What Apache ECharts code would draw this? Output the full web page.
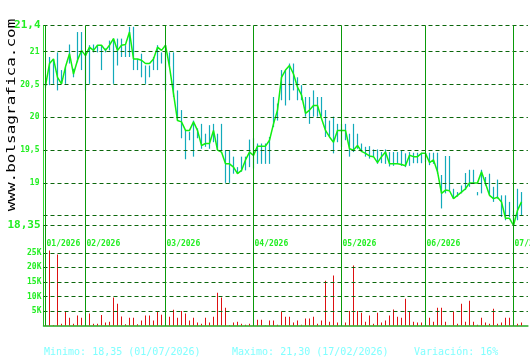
<!DOCTYPE html>
<html>
<head>
<meta charset="utf-8">
<script src="https://cdn.jsdelivr.net/npm/echarts@6/dist/echarts.min.js"></script>
<style>
html, body { margin: 0; padding: 0; background: #fff; }
#chart { width: 530px; height: 360px; }
</style>
</head>
<body>
<div id="chart"></div>
<script>
// month boundaries (trading-day index where each month starts)
var monthLabels = ['01/2026', '02/2026', '03/2026', '04/2026', '05/2026', '06/2026', '07/2026'];
var monthStarts = [0, 10, 30, 52, 74, 95, 117];

var priceTicks = [21.4, 21, 20.5, 20, 19.5, 19, 18.5, 18.35];
var priceTickLabels = ['21,4', '21', '20,5', '20', '19,5', '19', '', '18,35'];
var volumeTicks = [5000, 10000, 15000, 20000, 25000];
var volumeTickLabels = ['5K', '10K', '15K', '20K', '25K'];

var closes = [
  20.48, 20.82, 20.89, 20.61, 20.51, 20.77, 20.97, 20.66, 20.87, 21.02,
  20.94, 21.07, 21.02, 21.10, 21.10, 21.02, 21.10, 21.20, 21.02, 21.10,
  21.11, 21.30, 20.89, 20.89, 20.87, 20.82, 20.82, 20.89, 21.07, 21.02,
  21.10, 20.77, 20.36, 19.95, 19.93, 19.80, 19.80, 19.93, 19.80, 19.57,
  19.60, 19.60, 19.80, 19.50, 19.47, 19.29, 19.29, 19.24, 19.14, 19.19,
  19.35, 19.47, 19.42, 19.56, 19.56, 19.56, 19.65, 19.90, 20.11, 20.61,
  20.72, 20.79, 20.66, 20.46, 20.34, 20.06, 20.11, 20.18, 20.18, 19.98,
  19.80, 19.70, 19.62, 19.80, 19.80, 19.80, 19.52, 19.50, 19.57, 19.48,
  19.45, 19.41, 19.40, 19.31, 19.40, 19.47, 19.29, 19.29, 19.29, 19.28,
  19.26, 19.42, 19.40, 19.40, 19.45, 19.45, 19.31, 19.35, 19.17, 18.84,
  18.89, 18.88, 18.76, 18.81, 18.86, 18.91, 19.00, 19.00, 19.00, 19.17,
  18.99, 18.81, 18.76, 18.78, 18.71, 18.46, 18.46, 18.35, 18.58, 18.71
];
var highs = [
  20.55, 20.92, 20.89, 20.99, 20.72, 20.77, 21.11, 20.74, 21.30, 21.30,
  20.97, 21.10, 21.11, 21.10, 21.10, 21.05, 21.17, 21.20, 21.20, 21.20,
  21.10, 21.38, 21.38, 20.89, 20.97, 20.79, 20.79, 20.92, 21.10, 20.99,
  21.10, 20.99, 20.99, 20.41, 20.11, 19.80, 19.78, 19.95, 19.83, 19.90,
  19.75, 19.88, 19.90, 19.75, 19.90, 19.50, 19.50, 19.40, 19.24, 19.40,
  19.40, 19.66, 19.68, 19.60, 19.60, 19.60, 19.70, 20.31, 20.21, 20.72,
  20.72, 20.82, 20.82, 20.61, 20.49, 20.31, 20.31, 20.41, 20.31, 20.31,
  20.11, 19.95, 20.01, 19.90, 19.90, 19.90, 19.75, 19.90, 19.75, 19.60,
  19.55, 19.56, 19.51, 19.51, 19.47, 19.51, 19.47, 19.47, 19.47, 19.50,
  19.45, 19.47, 19.46, 19.46, 19.46, 19.46, 19.46, 19.46, 19.46, 19.12,
  19.41, 19.41, 18.91, 18.86, 18.96, 19.15, 19.20, 19.20, 18.86, 19.20,
  19.09, 19.14, 18.94, 19.05, 18.81, 18.81, 18.71, 18.58, 18.91, 18.86
];
var lows = [
  20.45, 20.49, 20.51, 20.41, 20.51, 20.51, 20.82, 20.61, 20.84, 20.72,
  20.41, 20.51, 20.99, 20.99, 20.72, 20.99, 21.02, 20.51, 20.79, 20.92,
  20.92, 20.92, 20.72, 20.72, 20.61, 20.51, 20.61, 20.72, 20.72, 20.82,
  20.41, 20.77, 20.31, 19.95, 19.68, 19.36, 19.65, 19.40, 19.68, 19.52,
  19.55, 19.52, 19.62, 19.50, 19.50, 19.00, 19.00, 19.14, 19.14, 19.17,
  19.19, 19.24, 19.22, 19.29, 19.29, 19.29, 19.29, 19.85, 19.95, 20.26,
  20.18, 20.26, 20.41, 20.26, 20.26, 20.01, 19.90, 20.01, 20.01, 20.01,
  19.70, 19.70, 19.45, 19.62, 19.55, 19.65, 19.40, 19.47, 19.52, 19.47,
  19.40, 19.37, 19.40, 19.29, 19.30, 19.29, 19.25, 19.26, 19.29, 19.26,
  19.24, 19.26, 19.30, 19.30, 19.30, 19.32, 19.27, 19.29, 19.14, 18.61,
  18.84, 18.89, 18.76, 18.79, 18.84, 18.89, 18.94, 19.00, 18.81, 18.84,
  18.96, 18.81, 18.71, 18.76, 18.48, 18.43, 18.48, 18.35, 18.43, 18.51
];
var volumes = [
  1700, 25800, 200, 24400, 600, 5000, 2700, 600, 3400, 2700,
  7700, 4100, 600, 600, 3600, 1000, 1300, 9600, 7500, 3100,
  400, 2700, 2700, 400, 1700, 3400, 3400, 1700, 5000, 3700,
  7500, 3000, 5400, 2700, 5000, 4100, 1700, 2700, 1000, 600,
  2700, 1000, 3000, 11300, 9600, 6100, 200, 1000, 1300, 600,
  300, 600, 5400, 2000, 2000, 100, 1700, 1700, 300, 4800,
  3000, 3000, 1000, 1700, 300, 2400, 2400, 3000, 600, 1700,
  15400, 1300, 17200, 1000, 1000, 1000, 5000, 20600, 5000, 4400,
  1300, 3400, 600, 4400, 1000, 1700, 3400, 5500, 3000, 2700,
  9200, 4800, 1300, 1000, 1000, 4100, 2700, 1300, 6100, 6100,
  1300, 100, 4800, 600, 7500, 1300, 8500, 1300, 300, 2700,
  1000, 600, 5800, 600, 1000, 2700, 2700, 2700, 600, 1000
];
var summaryTexts = ['Minimo: 18,35 (01/07/2026)', 'Maximo: 21,30 (17/02/2026)', 'Variación: 16%'];

var mono = 'DejaVu Sans Mono';
var green = '#22ee22';
var gridDash = { color: '#0b660b', type: [4, 3], width: 1 };
var monthLine = { color: '#0a990a', type: 'solid', width: 1 };

var priceMarks = priceTicks.map(function(v, i) {
    var big = (i === 0 || i === priceTicks.length - 1);
    return {
        yAxis: v,
        lineStyle: gridDash,
        label: {
            show: true, position: 'start', distance: big ? 3 : 4,
            formatter: priceTickLabels[i], color: green, fontFamily: mono,
            fontSize: big ? 11 : 8, fontWeight: 'bold'
        }
    };
});
monthStarts.forEach(function(d, i) {
    priceMarks.push({
        xAxis: d,
        lineStyle: monthLine,
        label: {
            show: true, position: 'start', distance: 14, align: 'left', verticalAlign: 'top',
            padding: [0, 0, 0, 1], formatter: monthLabels[i], color: green,
            fontFamily: mono, fontSize: 8, fontWeight: 'bold'
        }
    });
});

var volumeMarks = volumeTicks.map(function(v, i) {
    return {
        yAxis: v,
        lineStyle: gridDash,
        label: {
            show: true, position: 'start', distance: 2, formatter: volumeTickLabels[i],
            color: green, fontFamily: mono, fontSize: 8, fontWeight: 'bold'
        }
    };
});
monthStarts.forEach(function(d) {
    volumeMarks.push({ xAxis: d, lineStyle: monthLine, label: { show: false } });
});

var chart = echarts.init(document.getElementById('chart'));
chart.setOption({
    animation: false,
    grid: [
        { left: 43.5, width: 484.4, top: 25.5, height: 200 },
        { left: 43.5, width: 484.4, top: 225.5, height: 100 }
    ],
    xAxis: [
        { type: 'value', gridIndex: 0, min: -0.5, max: 120.6, show: false },
        {
            type: 'value', gridIndex: 1, min: -0.5, max: 120.6,
            axisLine: { show: true, onZero: false, lineStyle: { color: '#22aa22', width: 1.5 } },
            axisTick: { show: false }, axisLabel: { show: false }, splitLine: { show: false }
        }
    ],
    yAxis: [
        {
            type: 'value', gridIndex: 0, min: 18.35, max: 21.4,
            axisLine: { show: true, onZero: false, lineStyle: { color: '#33dd33', width: 1 } },
            axisTick: { show: false }, axisLabel: { show: false }, splitLine: { show: false }
        },
        {
            type: 'value', gridIndex: 1, min: 0, max: 34400,
            axisLine: { show: true, onZero: false, lineStyle: { color: '#22bb22', width: 1 } },
            axisTick: { show: false }, axisLabel: { show: false }, splitLine: { show: false }
        }
    ],
    series: [
        {
            type: 'line', xAxisIndex: 0, yAxisIndex: 0, data: [],
            markLine: { silent: true, symbol: ['none', 'none'], animation: false, data: priceMarks }
        },
        {
            type: 'custom', xAxisIndex: 0, yAxisIndex: 0,
            data: highs.map(function(h, i) { return [i, h, lows[i]]; }),
            encode: { x: 0, y: [1, 2] },
            renderItem: function(params, api) {
                var p1 = api.coord([api.value(0), api.value(1)]);
                var p2 = api.coord([api.value(0), api.value(2)]);
                return {
                    type: 'line',
                    shape: { x1: p1[0], y1: p1[1], x2: p2[0], y2: p2[1] },
                    style: { stroke: '#12aabb', lineWidth: 1.2 }
                };
            }
        },
        {
            type: 'line', xAxisIndex: 0, yAxisIndex: 0,
            data: closes.map(function(c, i) { return [i, c]; }),
            showSymbol: false,
            lineStyle: { color: '#11ee11', width: 1.5 }
        },
        {
            type: 'bar', xAxisIndex: 1, yAxisIndex: 1,
            data: volumes.map(function(v, i) { return [i, v]; }),
            barWidth: 1,
            itemStyle: { color: '#dd1111' },
            markLine: { silent: true, symbol: ['none', 'none'], animation: false, data: volumeMarks }
        }
    ],
    graphic: [
        {
            type: 'text', x: 12, y: 115, rotation: Math.PI / 2, scaleY: 0.8,
            style: { text: 'www.bolsagrafica.com', font: '16px "DejaVu Sans Mono"', fill: '#000', align: 'center', verticalAlign: 'middle' }
        },
        { type: 'text', x: 44, y: 352, style: { text: summaryTexts[0], font: '10px "DejaVu Sans Mono"', fill: '#80ffff', verticalAlign: 'middle' } },
        { type: 'text', x: 232, y: 352, style: { text: summaryTexts[1], font: '10px "DejaVu Sans Mono"', fill: '#80ffff', verticalAlign: 'middle' } },
        { type: 'text', x: 414, y: 352, style: { text: summaryTexts[2], font: '10px "DejaVu Sans Mono"', fill: '#80ffff', verticalAlign: 'middle' } }
    ]
});
</script>
</body>
</html>
